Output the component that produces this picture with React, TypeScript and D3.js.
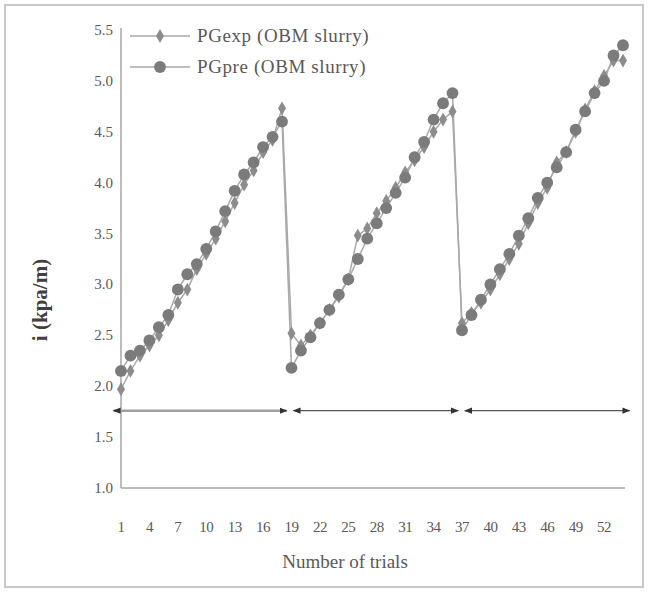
import React from "react";
import * as d3 from "d3";

const trials = d3.range(1, 55);
const pgExp = [
  1.97, 2.15, 2.3, 2.4, 2.5, 2.65, 2.82, 2.95, 3.15, 3.3, 3.45, 3.62, 3.8, 3.98, 4.12, 4.3, 4.42, 4.73,
  2.52, 2.4, 2.5, 2.62, 2.75, 2.88, 3.05, 3.48, 3.55, 3.7, 3.82, 3.95, 4.1, 4.22, 4.35, 4.5, 4.62, 4.7,
  2.62, 2.72, 2.82, 2.95, 3.1, 3.25, 3.4, 3.6, 3.8, 3.95, 4.2, 4.3, 4.5, 4.72, 4.9, 5.05, 5.2, 5.2,
];
const pgPre = [
  2.15, 2.3, 2.35, 2.45, 2.58, 2.7, 2.95, 3.1, 3.2, 3.35, 3.52, 3.72, 3.92, 4.08, 4.2, 4.35, 4.45, 4.6,
  2.18, 2.35, 2.48, 2.62, 2.75, 2.9, 3.05, 3.25, 3.45, 3.6, 3.75, 3.9, 4.05, 4.25, 4.4, 4.62, 4.78, 4.88,
  2.55, 2.7, 2.85, 3.0, 3.15, 3.3, 3.48, 3.65, 3.85, 4.0, 4.15, 4.3, 4.52, 4.7, 4.88, 5.0, 5.25, 5.35,
];
const xTicks = d3.range(1, 53, 3);
const yTicks = d3.range(1, 5.51, 0.5);
const arrowSpans = [
  [0.2, 18.5],
  [19.2, 36.6],
  [37.3, 54.7],
];
const arrowLevel = 1.76;
const legendNames = ["PGexp (OBM slurry)", "PGpre (OBM slurry)"];

const W = 648;
const H = 592;
const left = 121;
const right = 623;
const top = 30;
const bottom = 488;
const serif = "'Liberation Serif', 'DejaVu Serif', serif";

export default function App() {
  const x = d3.scaleLinear().domain([1, 54]).range([left, right]);
  const y = d3.scaleLinear().domain([1, 5.5]).range([bottom, top]);

  const line = d3
    .line<number>()
    .x((_, i) => x(trials[i]))
    .y((d) => y(d));

  const diamond = d3.symbol().type(d3.symbolDiamond).size(55)();
  const circle = d3.symbol().type(d3.symbolCircle).size(110)();

  return (
    <svg
      width={W}
      height={H}
      style={{ position: "absolute", left: 0, top: 0, background: "#fff" }}
    >
      <defs>
        <marker
          id="ah"
          viewBox="0 0 10 10"
          refX="9"
          refY="5"
          markerWidth="8"
          markerHeight="8"
          markerUnits="userSpaceOnUse"
          orient="auto-start-reverse"
        >
          <path d="M0,1 L10,5 L0,9 Z" fill="#333" />
        </marker>
      </defs>
      {/* outer frame */}
      <rect x={5} y={5} width={W - 10} height={H - 10} fill="none" stroke="#c8c8c8" strokeWidth={2} />

      {/* axes */}
      <line x1={left} x2={left} y1={top - 2} y2={bottom} stroke="#a6a6a6" strokeWidth={1.5} />
      <line x1={left} x2={right + 2} y1={bottom} y2={bottom} stroke="#a6a6a6" strokeWidth={1.5} />

      {yTicks.map((t) => (
        <text key={t} x={113} y={y(t) + 5} textAnchor="end" fontFamily={serif} fontSize={15} fill="#595959">
          {t.toFixed(1)}
        </text>
      ))}
      {xTicks.map((t) => (
        <text key={t} x={x(t)} y={532} textAnchor="middle" fontFamily={serif} fontSize={15} fill="#595959" letterSpacing={-0.5}>
          {t}
        </text>
      ))}

      <text x={345} y={568} textAnchor="middle" fontFamily={serif} fontSize={19} fill="#595959">
        Number of trials
      </text>
      <text
        transform={`translate(47,${300}) rotate(-90)`}
        textAnchor="middle"
        fontFamily={serif}
        fontSize={21}
        fontWeight="bold"
        fill="#404040"
      >
        i  (kpa/m)
      </text>

      {/* span arrows */}
      {arrowSpans.map(([a, b], i) => (
        <line
          key={i}
          x1={x(a)}
          x2={x(b)}
          y1={y(arrowLevel)}
          y2={y(arrowLevel)}
          stroke={i === 0 ? "#a0a0a0" : "#555"}
          strokeWidth={i === 0 ? 2.5 : 1.2}
          markerStart="url(#ah)"
          markerEnd="url(#ah)"
        />
      ))}

      {/* series */}
      <path d={line(pgExp) ?? ""} fill="none" stroke="#a9a9a9" strokeWidth={1.5} />
      <path d={line(pgPre) ?? ""} fill="none" stroke="#a9a9a9" strokeWidth={1.5} />
      {pgExp.map((v, i) => (
        <path key={"e" + i} d={diamond ?? ""} transform={`translate(${x(trials[i])},${y(v)})`} fill="#8c8c8c" />
      ))}
      {pgPre.map((v, i) => (
        <path key={"p" + i} d={circle ?? ""} transform={`translate(${x(trials[i])},${y(v)})`} fill="#7b7b7b" />
      ))}

      {/* legend */}
      {legendNames.map((name, i) => {
        const ly = 36 + i * 31;
        return (
          <g key={name}>
            <line x1={130} x2={190} y1={ly} y2={ly} stroke="#a9a9a9" strokeWidth={1.5} />
            <path
              d={(i === 0 ? diamond : circle) ?? ""}
              transform={`translate(160,${ly})`}
              fill={i === 0 ? "#8c8c8c" : "#7b7b7b"}
            />
            <text x={197} y={ly + 6} fontFamily={serif} fontSize={19} letterSpacing={0.6} fill="#595959">
              {name}
            </text>
          </g>
        );
      })}
    </svg>
  );
}
